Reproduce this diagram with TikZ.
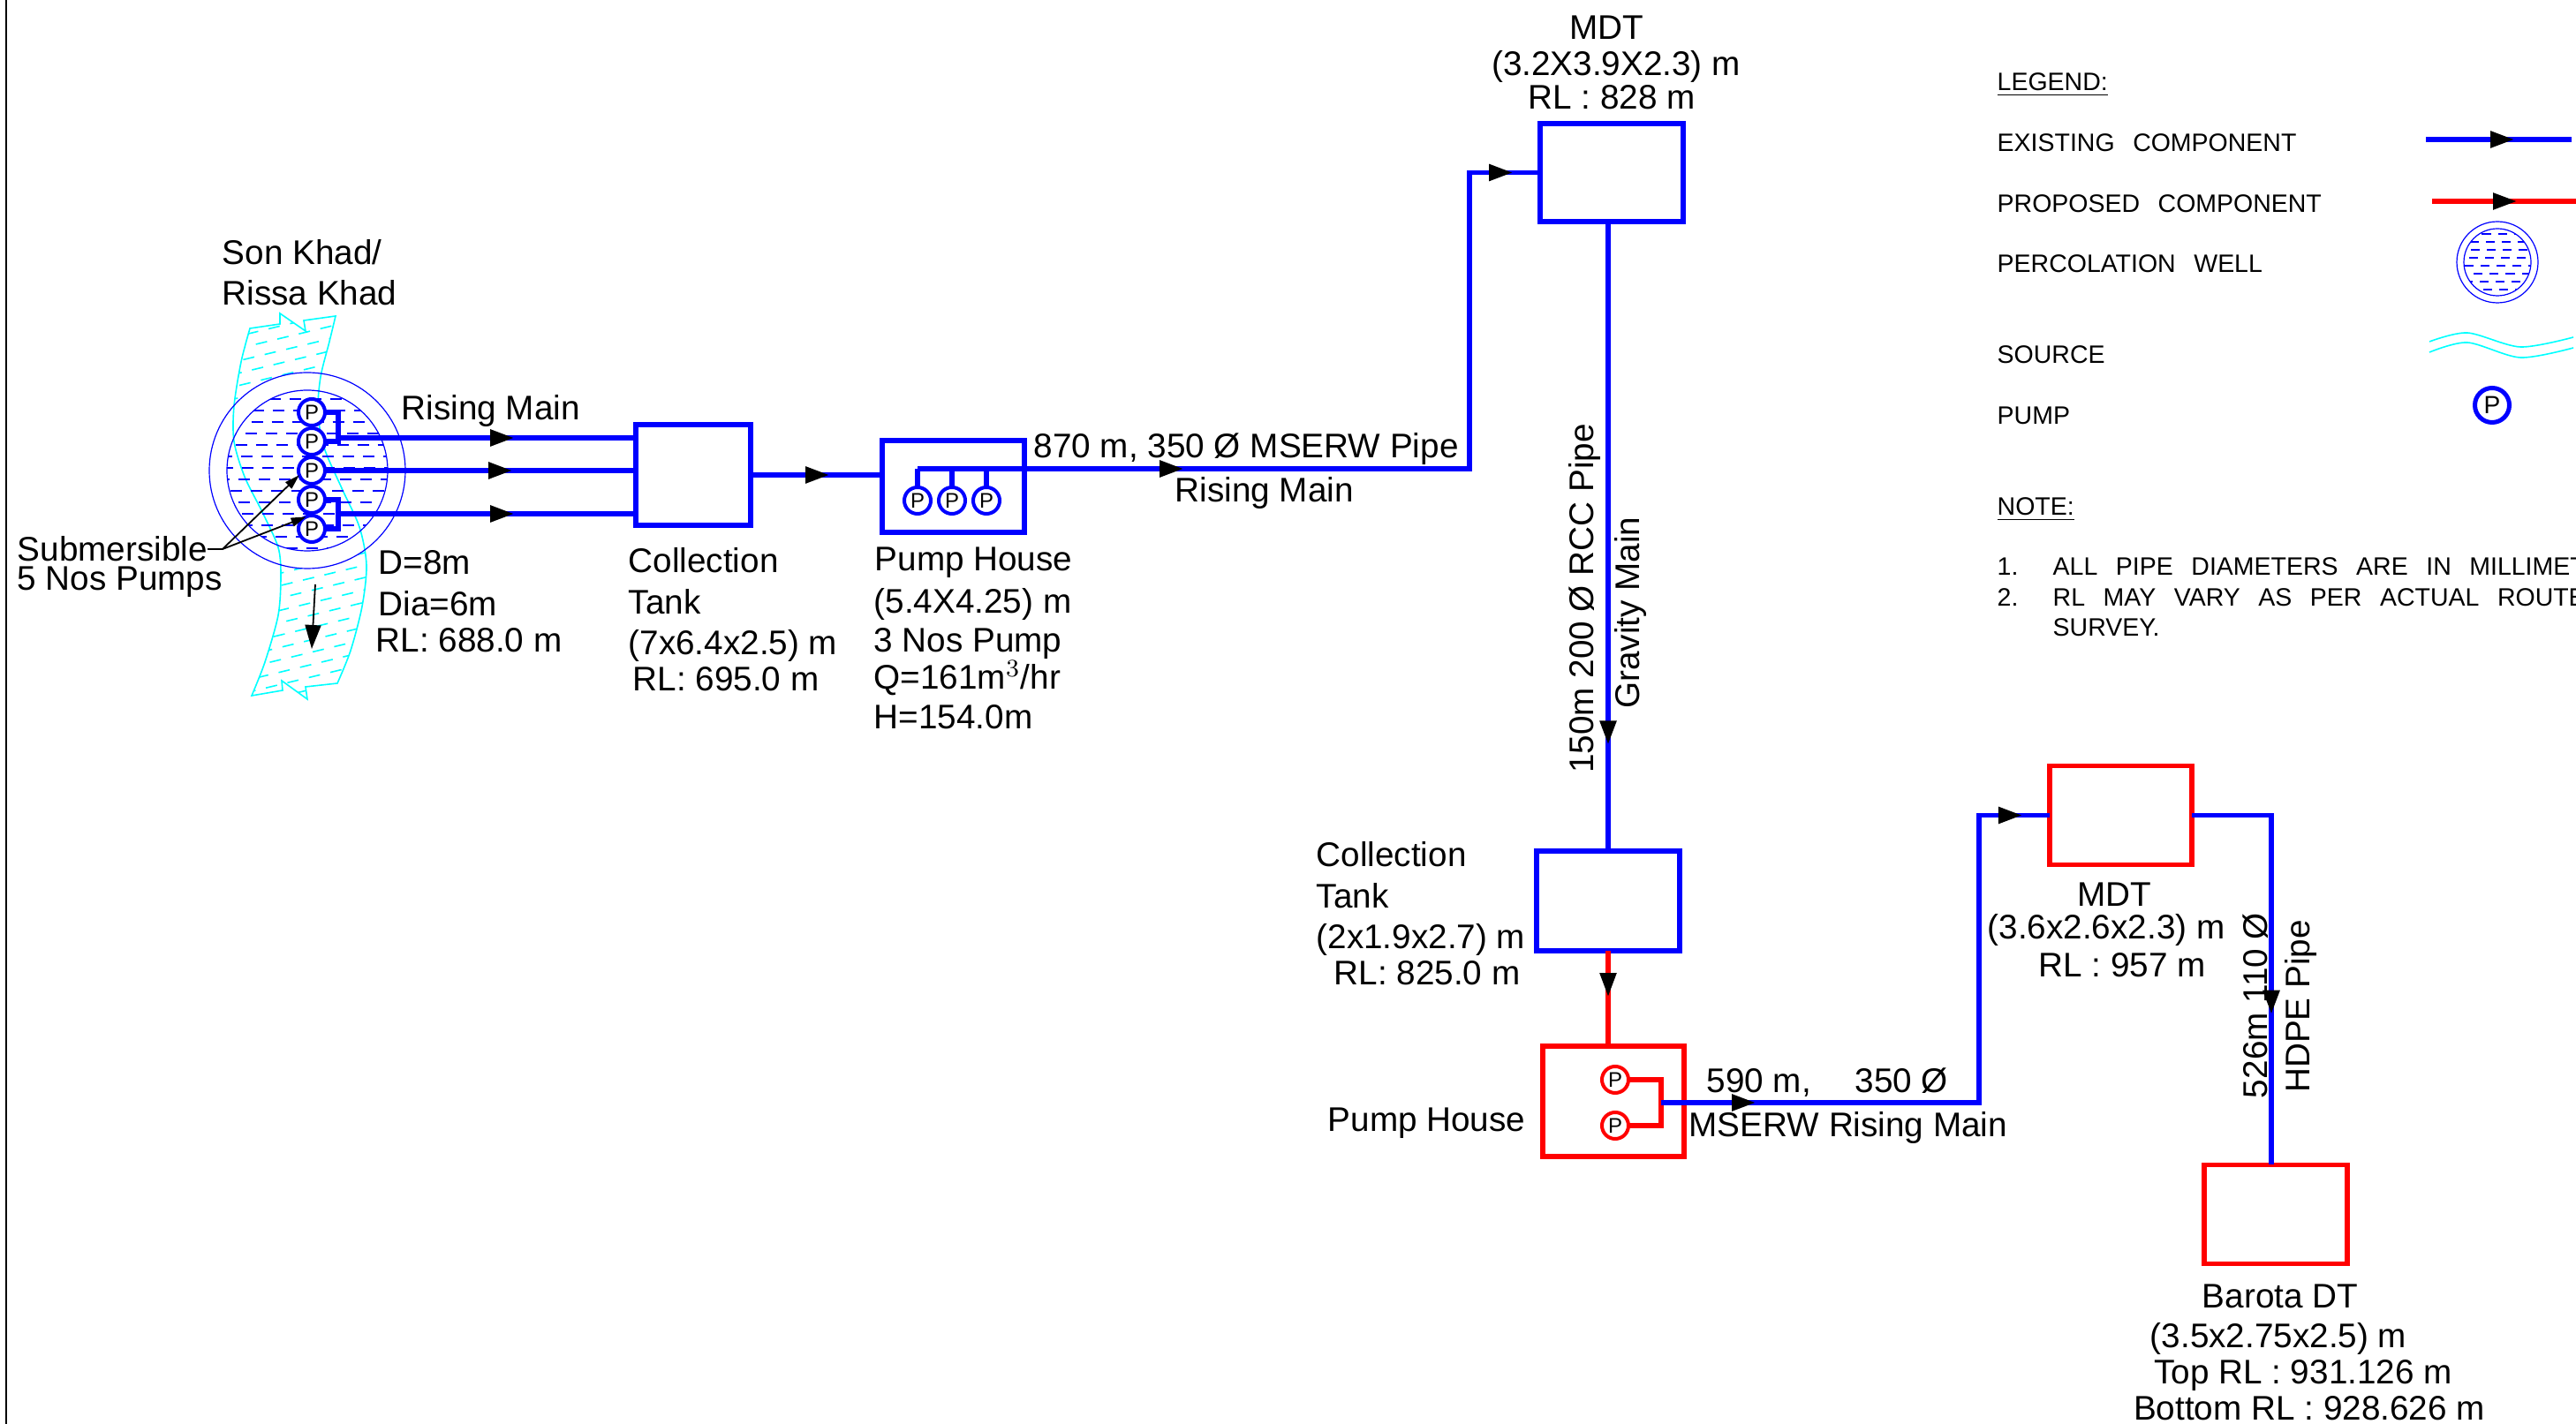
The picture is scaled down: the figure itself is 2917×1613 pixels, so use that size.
\documentclass[tikz,border=0pt]{standalone}
\usepackage{fontspec}
\setmainfont{Liberation Sans}
\newfontfamily\cadfont[WordSpace=1.3]{Liberation Sans}
\usetikzlibrary{arrows.meta,decorations.markings}
\definecolor{aqua}{RGB}{0,255,255}
\tikzset{
lbl/.style={anchor=base west,inner sep=0,yshift=-.015cm,font=\fontsize{11}{12}\selectfont},
lblc/.style={anchor=base,inner sep=0,yshift=-.015cm,font=\fontsize{11}{12}\selectfont},
lblv/.style={anchor=base,inner sep=0,rotate=90,font=\fontsize{11}{12}\selectfont},
lgd/.style={anchor=base west,inner sep=0,yshift=-.015cm,font=\cadfont\fontsize{8.1}{10}\selectfont},
box/.style={draw=blue,line width=.06cm,outer sep=0,inner sep=0},
redbox/.style={box,draw=red,line width=.055cm},
pump/.style={circle,draw=blue,fill=white,line width=.04cm,minimum size=.30cm,inner sep=0,outer sep=0,font=\fontsize{6.8}{7}\selectfont},
redpump/.style={pump,draw=red},
pipe/.style={draw=blue,line width=.055cm},
redpipe/.style={draw=red,line width=.052cm},
flow/.style={postaction={decorate},decoration={markings,mark=at position #1 with {\arrow[black]{Triangle[length=.27cm,width=.18cm]}}}},
flowtwo/.style 2 args={postaction={decorate},decoration={markings,mark=at position #1 with {\arrow[black]{Triangle[length=.27cm,width=.18cm]}},mark=at position #2 with {\arrow[black]{Triangle[length=.27cm,width=.18cm]}}}},
wellline/.style={draw=blue,line width=.012cm},
water/.style={draw=blue,line width=.014cm,dash pattern=on .13cm off .1cm},
river/.style={draw=aqua,line width=.016cm},
leader/.style={draw=black,line width=.018cm},
}
\def\riverpath{(283,372)--(317,367)--(317,355)--(346,375)--(344,363)--(380,358)--plot[smooth] coordinates {(380,358)(373,387)(363,427)(360,467)(367,507)(387,553)(407,597)(415,640)(410,687)(397,737)(382,774)}--(346,778)--(348,792)--(319,771)--(320,782)--(285,788)--plot[smooth] coordinates {(285,788)(300,750)(315,697)(318,653)(315,620)(297,580)(277,540)(265,500)(265,460)(273,410)(283,372)}--cycle}
\begin{document}
\begin{tikzpicture}[x=.01cm,y=-.01cm]
\useasboundingbox (0,0) rectangle (2917,1613);
\clip (0,0) rectangle (2917,1613);
\coordinate (frametop) at (7,0);
\coordinate (framebot) at (7,1613);
\draw[line width=.02cm] (frametop)--(framebot);
% source and well
\begin{scope}
\clip \riverpath;
\foreach \k in {360,374,...,860}
\draw[river,dash pattern=on .13cm off .12cm,dash phase=\k*.3pt] (240,\k)--(480,\k-58);
\end{scope}
\fill[white] (348,533) circle (111);
\path[river] \riverpath;
\begin{scope}
\clip (348,533) circle (91);
\foreach \k [count=\i] in {452,465,...,625}
\draw[water,dash phase=\i*\i*4pt] (250,\k)--(450,\k);
\end{scope}
\draw[wellline] (348,533) circle (111) (348,533) circle (91);
\node[lbl] (sonkhad) at (251,298) {Son Khad/};
\node[lbl] (rissakhad) at (251,344) {Rissa Khad};
\node[pump] (pa) at (353,467) {P};
\node[pump] (pb) at (353,500) {P};
\node[pump] (pc) at (353,533) {P};
\node[pump] (pd) at (353,566) {P};
\node[pump] (pe) at (353,599) {P};
\node[box,minimum width=1.30cm,minimum height=1.13cm] (tankA) at (785,538) {};
\coordinate (riserA) at (383,496);
\coordinate (riserB) at (383,582);
\draw[pipe] (pa.east)-|(riserA)|-(pb.east);
\draw[pipe] (pd.east)-|(riserB)|-(pe.east);
\draw[pipe,flow=1.99cm] (riserA)--(riserA-|tankA.west);
\draw[pipe,flow=2.12cm] (pc.east)--(pc.east-|tankA.west);
\draw[pipe,flow=1.99cm] (riserB)--(riserB-|tankA.west);
\node[lbl] (risingA) at (454,474) {Rising Main};
\node[lbl] (subm) at (19,634) {Submersible};
\node[lbl] (nospump) at (19,667) {5 Nos Pumps};
\coordinate (leadstart) at (235,622);
\coordinate (leadend) at (252,622);
\draw[leader] (leadstart)--(leadend);
\draw[leader,-{Triangle[length=.17cm,width=.1cm]}] (leadend)--(pc.200);
\draw[leader,-{Triangle[length=.17cm,width=.1cm]}] (leadend)--(pe.115);
\coordinate (flowstart) at (357,662);
\coordinate (flowend) at (353,735);
\draw[leader,-{Triangle[length=.27cm,width=.18cm]}] (flowstart)--(flowend);
\node[lbl] (welld) at (428,649) {D=8m};
\node[lbl] (welldia) at (428,696) {Dia=6m};
\node[lbl] (wellrl) at (425,737) {RL: 688.0 m};
% first tank and pump house
\node[lbl] (tankAa) at (711,647) {Collection};
\node[lbl] (tankAb) at (711,694) {Tank};
\node[lbl] (tankAc) at (711,740) {(7x6.4x2.5) m};
\node[lbl] (tankAd) at (716,781) {RL: 695.0 m};
\node[box,minimum width=1.61cm,minimum height=1.04cm] (houseA) at (1079.5,551) {};
\draw[pipe,flow=.89cm] (tankA.east)--(tankA.east-|houseA.west);
\node[pump] (pf) at (1039,567) {P};
\node[pump] (pg) at (1078,567) {P};
\node[pump] (ph) at (1117,567) {P};
\node[box,minimum width=1.62cm,minimum height=1.11cm] (mdtA) at (1825,195.5) {};
\coordinate (headerA) at (1039,531);
\coordinate (bendA) at (1664,531);
\draw[pipe,flowtwo={3.01cm}{10.09cm}] (headerA)--(bendA)|-(mdtA.west);
\draw[pipe] (pf.north)--(pf.north|-headerA);
\draw[pipe] (pg.north)--(pg.north|-headerA);
\draw[pipe] (ph.north)--(ph.north|-headerA);
\node[lbl] (houseAa) at (990,645) {Pump House};
\node[lbl] (houseAb) at (989,693) {(5.4X4.25) m};
\node[lbl] (houseAc) at (989,737) {3 Nos Pump};
\node[lbl] (houseAd) at (989,779) {Q=161m$^3$/hr};
\node[lbl] (houseAe) at (989,824) {H=154.0m};
\node[lbl] (pipeAa) at (1170,517) {870 m, 350 Ø MSERW Pipe};
\node[lbl] (pipeAb) at (1330,567) {Rising Main};
\node[lblc] (mdtAa) at (1819,43) {MDT};
\node[lblc] (mdtAb) at (1830,84) {(3.2X3.9X2.3) m};
\node[lblc] (mdtAc) at (1825,122) {RL : 828 m};
% gravity main and second tank
\node[box,minimum width=1.61cm,minimum height=1.13cm] (tankB) at (1821,1020.5) {};
\draw[pipe,flow=5.92cm] (mdtA.south-|tankB.north)--(tankB.north);
\node[lblv] (gravA) at (1804,678) {150m 200 Ø RCC Pipe};
\node[lblv] (gravB) at (1856,694) {Gravity Main};
\node[lbl] (tankBa) at (1490,980) {Collection};
\node[lbl] (tankBb) at (1490,1027) {Tank};
\node[lbl] (tankBc) at (1490,1073) {(2x1.9x2.7) m};
\node[lbl] (tankBd) at (1510,1114) {RL: 825.0 m};
% proposed pump house
\node[redbox,minimum width=1.60cm,minimum height=1.25cm] (houseB) at (1827,1247.5) {};
\draw[redpipe,flow=.52cm] (tankB.south)--(tankB.south|-houseB.north);
\node[redpump] (pi) at (1829,1223) {P};
\node[redpump] (pj) at (1829,1275) {P};
\coordinate (bracketB) at (1881,1249);
\draw[redpipe] (pi.east)-|(bracketB)|-(pj.east);
\node[lbl] (houseBa) at (1503,1280) {Pump House};
\node[redbox,minimum width=1.61cm,minimum height=1.12cm] (mdtB) at (2401.5,923.5) {};
\coordinate (bendB) at (2241,1249);
\draw[pipe,flowtwo={1.07cm}{7.34cm}] (bracketB)--(bendB)|-(mdtB.west);
\node[lbl] (pipeBa) at (1932,1236) {590 m,};
\node[lbl] (pipeBb) at (2100,1236) {350 Ø};
\node[lbl] (pipeBc) at (1912,1286) {MSERW Rising Main};
\node[lblc] (mdtBa) at (2394,1025) {MDT};
\node[lblc] (mdtBb) at (2385,1062) {(3.6x2.6x2.3) m};
\node[lblc] (mdtBc) at (2403,1105) {RL : 957 m};
\node[redbox,minimum width=1.62cm,minimum height=1.12cm] (barota) at (2577,1375.5) {};
\coordinate (bendC) at (2572,923.5);
\draw[pipe,flow=3.15cm] (mdtB.east)--(bendC)--(bendC|-barota.north);
\node[lblv] (pipeCa) at (2567,1139) {526m 110 Ø};
\node[lblv] (pipeCb) at (2615,1140) {HDPE Pipe};
\node[lblc] (barotaA) at (2582,1480) {Barota DT};
\node[lblc] (barotaB) at (2580,1525) {(3.5x2.75x2.5) m};
\node[lblc] (barotaC) at (2608,1566) {Top RL : 931.126 m};
\node[lblc] (barotaD) at (2615,1607) {Bottom RL : 928.626 m};
% legend
\node[lgd] (lgdhead) at (2261,101) {\underline{LEGEND:}};
\node[lgd] (lgdexist) at (2261,170) {EXISTING~~COMPONENT};
\node[lgd] (lgdprop) at (2261,239) {PROPOSED~~COMPONENT};
\node[lgd] (lgdwell) at (2261,307) {PERCOLATION~~WELL};
\node[lgd] (lgdsrc) at (2261,410) {SOURCE};
\node[lgd] (lgdpump) at (2261,479) {PUMP};
\coordinate (exista) at (2747,158);
\coordinate (existb) at (2912,158);
\coordinate (propa) at (2754,228);
\coordinate (propb) at (2917,228);
\draw[pipe,flow=1.00cm] (exista)--(existb);
\draw[redpipe,flow=.96cm] (propa)--(propb);
\begin{scope}
\clip (2828,297) circle (38);
\foreach \k [count=\i] in {265,274,...,330}
\draw[water,dash pattern=on .1cm off .08cm,dash phase=\i*\i*3pt] (2785,\k)--(2870,\k);
\end{scope}
\draw[wellline] (2828,297) circle (46) (2828,297) circle (38);
\draw[river] plot[smooth] coordinates {(2751,387)(2794,377)(2854,393)(2914,382)};
\draw[river] plot[smooth] coordinates {(2751,399)(2794,388)(2854,405)(2914,394)};
\node[pump,minimum size=.39cm,line width=.05cm,font=\fontsize{8}{8}\selectfont] (lgdp) at (2822,459) {P};
% notes
\node[lgd] (notehead) at (2261,582) {\underline{NOTE:}};
\node[lgd] (noteone) at (2261,650) {1.};
\node[lgd] (notetwo) at (2261,685) {2.};
\node[lgd] (noteonet) at (2324,650) {ALL~~PIPE~~DIAMETERS~~ARE~~IN~~MILLIMET};
\node[lgd] (notetwot) at (2324,685) {RL~~MAY~~VARY~~AS~~PER~~ACTUAL~~ROUTE};
\node[lgd] (notethree) at (2324,719) {SURVEY.};
\end{tikzpicture}
\end{document}
